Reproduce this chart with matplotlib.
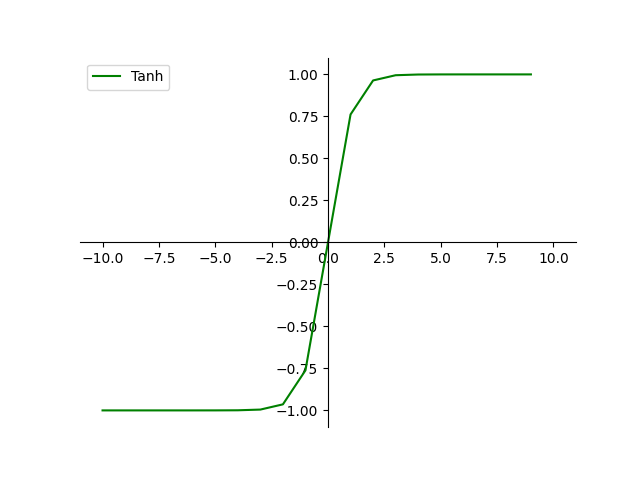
import matplotlib
matplotlib.use('Agg')
import matplotlib.pyplot as plt

# values (integer steps from -10 to 9)
x = [-10, -9, -8, -7, -6, -5, -4, -3, -2, -1, 0, 1, 2, 3, 4, 5, 6, 7, 8, 9]
y = [-1.0, -1.0, -1.0, -1.0, -1.0, -0.9999, -0.9993, -0.9951, -0.9640, -0.7616,
     0.0, 0.7616, 0.9640, 0.9951, 0.9993, 0.9999, 1.0, 1.0, 1.0, 1.0]

fig = plt.figure(figsize=(6.4, 4.8), dpi=100)
ax = fig.add_subplot(111)
ax.plot(x, y, color='green', label='Tanh')
ax.set_xlim(-11, 11)

# axes through the origin
ax.spines['left'].set_position(('data', 0))
ax.spines['bottom'].set_position(('data', 0))
ax.spines['top'].set_visible(False)
ax.spines['right'].set_visible(False)

ax.legend(loc='upper left')
fig.savefig('out.png')
